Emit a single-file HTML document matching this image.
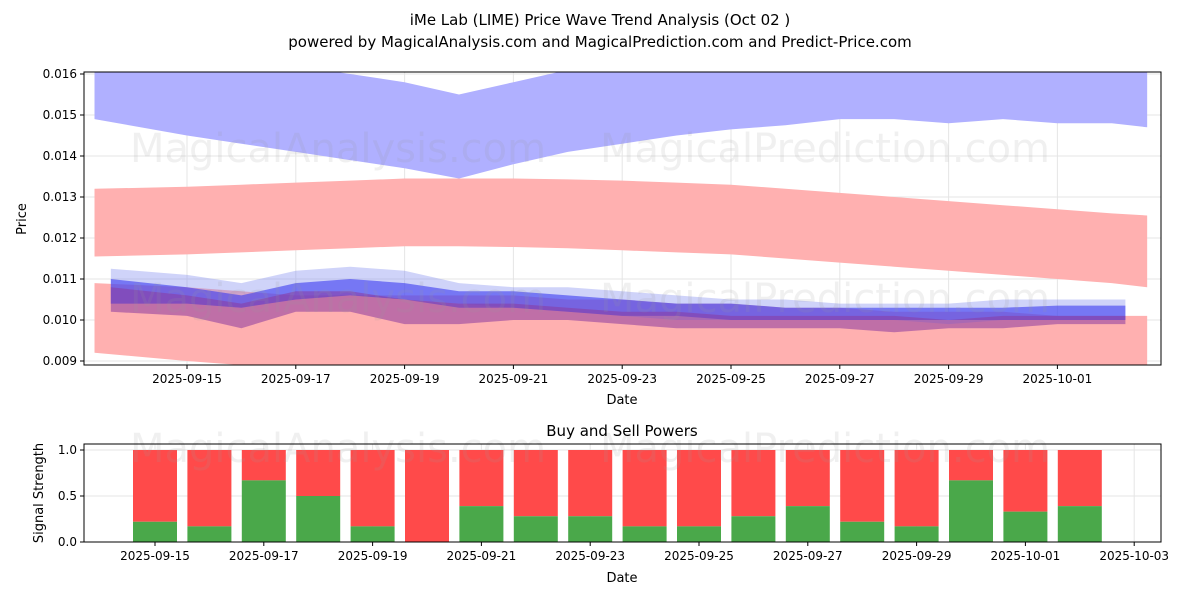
<!DOCTYPE html>
<html><head><meta charset="utf-8"><style>
body{margin:0;background:#fff;font-family:"Liberation Sans","DejaVu Sans",sans-serif;}
svg text{font-family:"DejaVu Sans","Liberation Sans",sans-serif;}
</style></head><body>
<svg id="c" width="1200" height="600" xmlns="http://www.w3.org/2000/svg">
<text x="600" y="25" font-size="15" text-anchor="middle">iMe Lab (LIME) Price Wave Trend Analysis (Oct 02 )</text>
<text x="600" y="47" font-size="15" text-anchor="middle">powered by MagicalAnalysis.com and MagicalPrediction.com and Predict-Price.com</text>
<defs><clipPath id="cp1"><rect x="84" y="72" width="1077" height="293"/></clipPath></defs>
<g id="topPlot" clip-path="url(#cp1)"></g>
<g id="topAx"></g>
<g id="bot"></g>
</svg>
<script>
const days=[13.3,15,16,17,18,19,20,21,22,23,24,25,26,27,28,29,30,31,32,32.65];
const blueUpTop=[.0163,.0163,.0163,.0162,.0160,.0158,.0155,.0158,.0161,.0163,.0164,.0165,.0165,.0165,.0165,.0164,.0164,.0164,.0163,.0162];
const blueUpBot=[.0149,.0145,.0143,.0141,.0139,.0137,.01345,.0138,.0141,.0143,.0145,.01465,.01475,.0149,.0149,.0148,.0149,.0148,.0148,.0147];
const redUpTop=[.0132,.01325,.0133,.01335,.0134,.01345,.01345,.01345,.01343,.0134,.01335,.0133,.0132,.0131,.0130,.0129,.0128,.0127,.0126,.01255];
const redUpBot=[.01155,.0116,.01165,.0117,.01175,.0118,.0118,.01178,.01175,.0117,.01165,.0116,.0115,.0114,.0113,.0112,.0111,.0110,.0109,.0108];
const redLoTop=[.0109,.0108,.0107,.0106,.0106,.0106,.0106,.0106,.0105,.0105,.0104,.0104,.0103,.0103,.0102,.0102,.0102,.0101,.0101,.0101];
const redLoBot=[.0092,.0090,.0089,.0088,.0088,.0088,.0088,.0088,.0088,.0088,.0088,.0088,.0088,.0088,.0088,.0088,.0088,.0088,.0088,.0088];
const wDays=[13.6,15,16,17,18,19,20,21,22,23,24,25,26,27,28,29,30,31,32,32.25];
const lbTop=[.01125,.0111,.0109,.0112,.0113,.0112,.0109,.0108,.0108,.0107,.0106,.0105,.0105,.0104,.0104,.0104,.0105,.0105,.0105,.0105];
const lbBot=[.0104,.0104,.0103,.0105,.0106,.0105,.0104,.0103,.0102,.0101,.0100,.0100,.0100,.0100,.0100,.0099,.0100,.0100,.0100,.0100];
const bTop=[.0110,.0108,.0106,.0109,.0110,.0109,.0107,.0107,.0106,.0105,.0104,.0104,.0103,.0103,.0103,.0103,.0103,.01035,.01035,.01035];
const bBot=[.0104,.0104,.0103,.0105,.0106,.0105,.0103,.0103,.0102,.0101,.0101,.0100,.0100,.0100,.0100,.0100,.0100,.0100,.0100,.0100];
const pTop=[.0108,.0106,.0104,.0107,.0107,.0105,.0104,.0104,.0103,.0102,.0102,.0101,.0101,.0101,.0101,.0100,.0101,.0101,.0101,.0101];
const pBot=[.0102,.0101,.0098,.0102,.0102,.0099,.0099,.0100,.0100,.0099,.0098,.0098,.0098,.0098,.0097,.0098,.0098,.0099,.0099,.0099];
const yTicks=[0.009,0.010,0.011,0.012,0.013,0.014,0.015,0.016];
const xTickDays=[15,17,19,21,23,25,27,29,31];
const xTickLabels=["2025-09-15","2025-09-17","2025-09-19","2025-09-21","2025-09-23","2025-09-25","2025-09-27","2025-09-29","2025-10-01"];
const barDays=[15,16,17,18,19,20,21,22,23,24,25,26,27,28,29,30,31,32];
const buyVals=[.22,.17,.67,.5,.17,0,.39,.28,.28,.17,.17,.28,.39,.22,.17,.67,.33,.39];
const botTickDays=[15,17,19,21,23,25,27,29,31,33];
const botTickLabels=["2025-09-15","2025-09-17","2025-09-19","2025-09-21","2025-09-23","2025-09-25","2025-09-27","2025-09-29","2025-10-01","2025-10-03"];

const NS="http://www.w3.org/2000/svg";
function mk(t,a,p){const e=document.createElementNS(NS,t);for(const k in a)e.setAttribute(k,a[k]);p.appendChild(e);return e;}
const X=d=>187+(d-15)*54.4;
const Y=v=>320-(v-0.010)*41000;
const XB=d=>155+(d-15)*54.4;
const YB=v=>542-v*92;
const topG=document.getElementById('topPlot'),ax=document.getElementById('topAx'),bot=document.getElementById('bot');

yTicks.forEach(v=>{const l=mk('line',{x1:84,x2:1161,y1:Y(v),y2:Y(v),stroke:'#e5e5e5','stroke-width':1},topG);

});
xTickDays.forEach(d=>{const l=mk('line',{x1:X(d),x2:X(d),y1:72,y2:365,stroke:'#e5e5e5','stroke-width':1},topG);

});

function band(ds,t,b,fill,op,name){
 let p=ds.map((d,i)=>X(d)+','+Y(t[i]));
 for(let i=ds.length-1;i>=0;i--)p.push(X(ds[i])+','+Y(b[i]));
 const e=mk('polygon',{points:p.join(' '),fill:fill,'fill-opacity':op},topG);
 
 
}
band(days,blueUpTop,blueUpBot,'#b0b0ff',1,'blue-upper-band');
band(days,redUpTop,redUpBot,'#ffb0b0',1,'red-upper-band');
band(days,redLoTop,redLoBot,'#ffb0b0',1,'red-lower-band');
band(wDays,lbTop,lbBot,'#8890f0',0.4,'light-blue-wave');
band(wDays,bTop,bBot,'#3a3af0',0.6,'blue-wave');
band(wDays,pTop,pBot,'#8a3aa0',0.55,'purple-wave');

const wm=[[130,162,'MagicalAnalysis.com'],[600,162,'MagicalPrediction.com'],[130,312,'MagicalAnalysis.com'],[600,312,'MagicalPrediction.com']];
wm.forEach(w=>{const t=mk('text',{x:w[0],y:w[1],'font-size':40,fill:'#999','fill-opacity':0.15},topG);t.textContent=w[2];

});

const fr=mk('rect',{x:84,y:72,width:1077,height:293,fill:'none',stroke:'#000','stroke-width':1},ax);


yTicks.forEach(v=>{mk('line',{x1:80,x2:84,y1:Y(v),y2:Y(v),stroke:'#000'},ax);
const t=mk('text',{x:77,y:Y(v)+4,'font-size':12,'text-anchor':'end'},ax);t.textContent=v.toFixed(3);

});
xTickDays.forEach((d,i)=>{mk('line',{x1:X(d),x2:X(d),y1:365,y2:369,stroke:'#000'},ax);
const t=mk('text',{x:X(d),y:383,'font-size':12,'text-anchor':'middle'},ax);t.textContent=xTickLabels[i];

});
let tt=mk('text',{x:622,y:404,'font-size':13,'text-anchor':'middle'},ax);tt.textContent='Date';


tt=mk('text',{x:26,y:219,'font-size':13,'text-anchor':'middle',transform:'rotate(-90 26 219)'},ax);tt.textContent='Price';



[0,0.5,1].forEach(v=>{const l=mk('line',{x1:84,x2:1161,y1:YB(v),y2:YB(v),stroke:'#e5e5e5'},bot);

});
botTickDays.forEach(d=>{const l=mk('line',{x1:XB(d),x2:XB(d),y1:444,y2:542,stroke:'#e5e5e5'},bot);

});
barDays.forEach((d,i)=>{
 const x=XB(d)-22;
 const r=mk('rect',{x:x,y:YB(1),width:44,height:YB(buyVals[i])-YB(1),fill:'#ff4a4a'},bot);
 
 
 const g=mk('rect',{x:x,y:YB(buyVals[i]),width:44,height:YB(0)-YB(buyVals[i]),fill:'#4aa84a'},bot);
 
 
});
[[130,462,'MagicalAnalysis.com'],[600,462,'MagicalPrediction.com']].forEach(w=>{const e=mk('text',{x:w[0],y:w[1],'font-size':40,fill:'#999','fill-opacity':0.15},bot);e.textContent=w[2];

});
const fr2=mk('rect',{x:84,y:444,width:1077,height:98,fill:'none',stroke:'#000'},bot);


[0,0.5,1].forEach(v=>{mk('line',{x1:80,x2:84,y1:YB(v),y2:YB(v),stroke:'#000'},bot);
const e=mk('text',{x:77,y:YB(v)+4,'font-size':12,'text-anchor':'end'},bot);e.textContent=v.toFixed(1);

});
botTickDays.forEach((d,i)=>{mk('line',{x1:XB(d),x2:XB(d),y1:542,y2:546,stroke:'#000'},bot);
const e=mk('text',{x:XB(d),y:560,'font-size':12,'text-anchor':'middle'},bot);e.textContent=botTickLabels[i];

});
tt=mk('text',{x:622,y:436,'font-size':15,'text-anchor':'middle'},bot);tt.textContent='Buy and Sell Powers';


tt=mk('text',{x:622,y:582,'font-size':13,'text-anchor':'middle'},bot);tt.textContent='Date';


tt=mk('text',{x:43,y:493,'font-size':13,'text-anchor':'middle',transform:'rotate(-90 43 493)'},bot);tt.textContent='Signal Strength';


</script>
</body></html>
